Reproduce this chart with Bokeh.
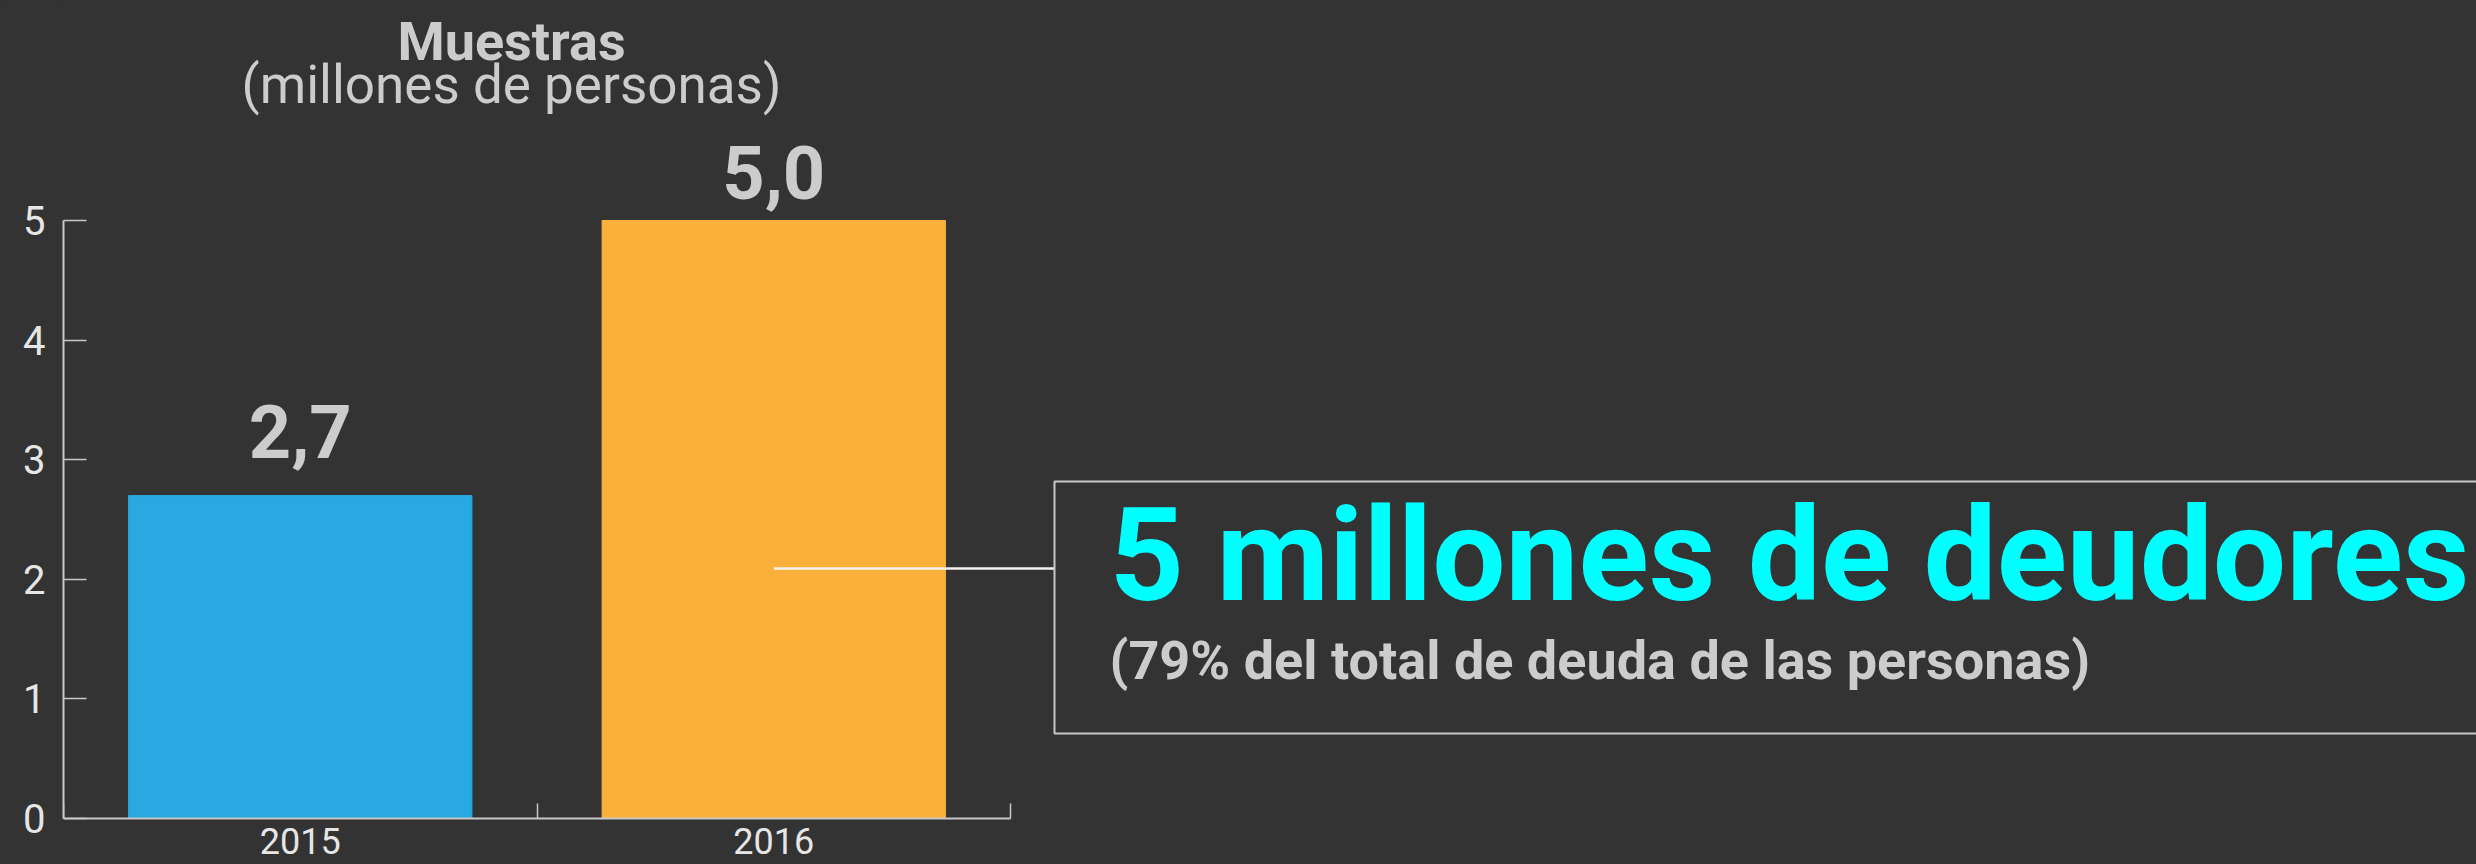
from bokeh.plotting import figure
from bokeh.models import Range1d, FixedTicker, CustomJSTickFormatter
from bokeh.core.properties import value
from bokeh.embed import file_html
from bokeh.resources import INLINE

# ---------------- data ----------------
years = ["2015", "2016"]
values = [2.7, 5.0]
value_labels = ["2,7", "5,0"]
bar_colors = ["#29A9E1", "#FBB03B"]
y_ticks = [0, 1, 2, 3, 4, 5]
title_main = "Muestras"
title_sub = "(millones de personas)"
callout_main = "5 millones de deudores"
callout_sub = "(79% del total de deuda de las personas)"

# ---------------- layout / style ----------------
W, H = 2476, 864
LEFT = 63            # px reserved for the y axis
UNIT_X = 473.5       # px per category
Y0_PX = 818          # px (from top) of y = 0
PX_PER_Y = 119.6     # px per y unit
BG = "#333333"
AXIS_COL = "#c8c8c8"
TICK_LABEL_COL = "#e6e6e6"
TEXT_COL = "#cccccc"
FONT = "Roboto"
BASE_FIX = 0.34      # baseline correction (em)

x_end = (W - LEFT) / UNIT_X
y_start = -(H - Y0_PX) / PX_PER_Y
y_end = Y0_PX / PX_PER_Y

def px_to_x(px):
    return (px - LEFT) / UNIT_X

def txt_y(baseline_px, size):
    return (Y0_PX - (baseline_px - BASE_FIX * size)) / PX_PER_Y

p = figure(width=W, height=H, output_backend="svg", toolbar_location=None,
           x_range=Range1d(0, x_end), y_range=Range1d(y_start, y_end),
           min_border=0, min_border_left=LEFT)
p.background_fill_color = BG
p.border_fill_color = BG
p.outline_line_color = None
p.grid.visible = False

xs = [i + 0.5 for i in range(len(years))]

# bars
p.vbar(x=xs, top=values, bottom=0, width=0.725, color=bar_colors)

# value labels
VAL_SIZE = 74
label_offsets = [-(39 + BASE_FIX * VAL_SIZE), -(23 + BASE_FIX * VAL_SIZE)]
p.text(x=xs, y=values, text=value_labels, y_offset=label_offsets,
       text_align="center", text_baseline="alphabetic",
       text_font=value(FONT), text_font_style="bold",
       text_font_size=f"{VAL_SIZE}px", text_color=TEXT_COL)

# title
tx = px_to_x(511)
p.text(x=[tx], y=[txt_y(59, 54)], text=[title_main], text_align="center",
       text_baseline="alphabetic", text_font=value(FONT), text_font_style="bold",
       text_font_size="54px", text_color=TEXT_COL)
p.text(x=[tx], y=[txt_y(103, 53)], text=[title_sub], text_align="center",
       text_baseline="alphabetic", text_font=value(FONT),
       text_font_size="53px", text_color=TEXT_COL)

# callout box and connector
box_left = px_to_x(1054)
line_y = (Y0_PX - 568) / PX_PER_Y
p.segment(x0=[xs[1]], y0=[line_y], x1=[box_left], y1=[line_y],
          line_color="#f2f2f2", line_width=2.5)
p.quad(left=[box_left], right=[x_end + 1], top=[(Y0_PX - 481) / PX_PER_Y],
       bottom=[(Y0_PX - 733) / PX_PER_Y],
       fill_color=None, line_color=AXIS_COL, line_width=2)

text_x = px_to_x(1109)
p.text(x=[text_x], y=[txt_y(599, 130)], text=[callout_main], text_align="left",
       text_baseline="alphabetic", text_font=value(FONT), text_font_style="bold",
       text_font_size="130px", text_color="#00FFFF")
p.text(x=[text_x], y=[txt_y(678, 54)], text=[callout_sub], text_align="left",
       text_baseline="alphabetic", text_font=value(FONT), text_font_style="bold",
       text_font_size="54px", text_color=TEXT_COL)

# x axis
xa = p.xaxis[0]
xa.fixed_location = 0
xa.bounds = (0, len(years))
xa.ticker = FixedTicker(ticks=xs, minor_ticks=list(range(len(years) + 1)))
xa.formatter = CustomJSTickFormatter(args=dict(labels=years),
                                     code="return labels[Math.floor(tick)] || ''")
xa.axis_line_color = AXIS_COL
xa.axis_line_width = 2
xa.major_tick_in = 0
xa.major_tick_out = 0
xa.minor_tick_in = 15
xa.minor_tick_out = 0
xa.minor_tick_line_color = AXIS_COL
xa.minor_tick_line_width = 1.5
xa.major_label_standoff = 9
xa.major_label_text_font = FONT
xa.major_label_text_font_size = "36px"
xa.major_label_text_color = TICK_LABEL_COL

# y axis
ya = p.yaxis[0]
ya.bounds = (0, 5)
ya.ticker = FixedTicker(ticks=y_ticks)
ya.axis_line_color = AXIS_COL
ya.axis_line_width = 2
ya.major_tick_in = 23
ya.major_tick_out = 0
ya.major_tick_line_color = AXIS_COL
ya.major_tick_line_width = 1.5
ya.minor_tick_line_color = None
ya.major_label_standoff = 18
ya.major_label_text_font = FONT
ya.major_label_text_font_size = "40px"
ya.major_label_text_color = TICK_LABEL_COL

html = file_html(p, INLINE)
page_css = "<style>html, body { background-color: #333333 !important; }</style>"
html = html.replace("</head>", page_css + "\n</head>", 1)
open("out.html", "w").write(html)
